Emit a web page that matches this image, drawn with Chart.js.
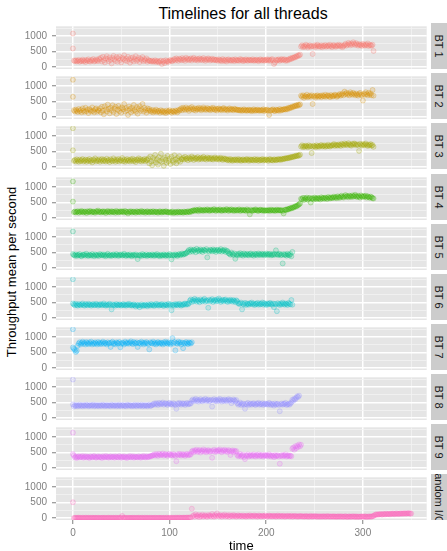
<!DOCTYPE html>
<html>
<head>
<meta charset="utf-8">
<script src="https://cdn.jsdelivr.net/npm/chart.js@4.4.1/dist/chart.umd.min.js"></script>
<style>
html,body{margin:0;padding:0;background:#fff;}
#wrap{position:relative;width:447px;height:551px;overflow:hidden;font-family:"Liberation Sans",Arial,sans-serif;}
#title{position:absolute;left:0;width:486px;top:5.5px;text-align:center;font-size:16px;line-height:16px;color:#000;white-space:nowrap;}
#ytitle{position:absolute;left:-138.5px;top:264px;width:300px;height:16px;line-height:16px;font-size:13px;text-align:center;color:#000;transform:rotate(-90deg);white-space:nowrap;}
.panel{position:absolute;left:0;}
.strip{position:absolute;left:431px;width:16px;height:46px;background:#CCCCCC;overflow:hidden;}
.strip span{position:absolute;left:50%;top:50%;transform:translate(-50%,-50%) rotate(90deg);font-size:11px;line-height:12px;color:#1a1a1a;white-space:nowrap;}
</style>
</head>
<body>
<div id="wrap">
  <div id="title">Timelines for all threads</div>
  <div id="ytitle">Throughput mean per second</div>
</div>
<script>
// ---- categories / ticks ----
const panelNames = ['BT 1','BT 2','BT 3','BT 4','BT 5','BT 6','BT 7','BT 8','BT 9','random I/O'];
const panelColors = ['#F8766D','#D89000','#A3A500','#39B600','#00BF7D','#00BFC4','#00B0F6','#9590FF','#E76BF3','#FF62BC'];
const xTickValues = [0,50,100,150,200,250,300,350];
const xTickLabels = [0,100,200,300];
const yTickValues = [0,250,500,750,1000,1250];
const yTickLabels = [0,500,1000];
const xTitle = 'time';

// ---- series: values at time 0, then one value per time unit from time 1 ----
const bt1Start = [1080,600];
const bt1 = [210,190,220,180,200,230,170,205,195,240,185,215,160,225,200,250,190,175,230,210,260,180,200,245,215,190,270,
240,300,180,330,220,150,280,350,260,190,310,230,120,290,360,250,200,320,170,280,340,230,150,300,260,380,210,270,190,330,250,140,290,220,310,180,260,350,200,240,300,160,270,230,320,190,250,210,280,170,230,200,
200,180,210,170,190,220,160,200,180,150,190,210,100,170,200,130,220,180,190,160,210,230,200,190,
230,260,210,280,240,200,270,250,220,290,230,260,200,300,240,270,220,250,280,210,260,300,240,230,270,210,250,280,230,260,220,290,240,200,260,230,280,250,210,240,270,220,250,230,
220,240,200,250,210,230,190,260,220,200,240,180,230,250,210,220,200,240,230,190,250,220,210,230,200,260,220,240,190,230,210,250,220,200,240,230,210,220,250,200,230,210,240,220,190,230,250,210,220,240,200,
230,220,250,210,240,200,230,260,220,100,150,240,210,230,250,200,230,260,220,240,250,
200,230,210,250,240,280,260,300,290,320,310,350,340,380,370,400,
660,700,640,680,650,720,690,630,670,700,650,680,420,660,700,640,690,720,660,680,650,700,640,690,670,710,650,680,700,660,720,680,640,690,710,670,650,700,680,720,690,660,700,640,680,710,750,690,720,780,740,700,760,720,800,750,710,770,730,690,740,700,720,680,750,710,690,730,700,760,680,720,700,690,720,520];

const bt2Start = [1200,650];
const bt2 = [220,180,240,200,160,260,190,230,150,280,210,170,300,190,240,130,260,220,180,310,200,150,250,280,170,230,200,
280,150,330,200,90,350,240,180,400,260,120,300,210,380,160,270,330,100,240,360,190,280,140,310,250,420,180,290,220,70,340,260,150,300,200,390,230,170,320,110,270,350,200,250,420,180,300,230,140,280,210,260,
200,170,230,150,210,180,240,160,200,190,140,220,170,200,150,180,130,210,160,190,220,170,140,200,180,160,210,190,150,230,200,
240,280,220,300,260,230,310,250,270,200,290,240,320,260,230,280,210,270,250,300,240,280,220,260,310,240,270,230,290,250,260,220,280,240,300,250,230,270,210,260,280,240,250,220,270,290,230,260,240,210,250,280,230,260,240,220,270,250,230,240,
220,230,210,240,200,220,250,210,230,200,220,240,210,230,190,220,250,200,230,210,240,220,200,230,210,220,250,190,230,220,240,210,70,200,230,220,250,210,190,240,220,230,200,260,210,240,230,250,260,
240,270,250,300,280,310,300,340,320,360,350,380,360,400,380,410,
690,650,700,620,680,660,720,640,670,690,650,700,420,660,690,630,680,700,650,670,690,640,700,680,660,720,650,690,700,670,640,710,680,660,690,720,700,650,680,710,740,690,720,760,700,820,740,780,720,760,700,800,750,720,780,740,700,760,720,690,740,780,720,700,530,750,720,800,740,700,780,720,760,700,870,690];

const bt3Start = [1250,540];
const bt3 = [200,230,180,250,210,170,240,190,220,260,180,210,240,170,230,200,260,190,220,150,240,210,280,180,230,200,250,170,220,260,190,240,210,180,270,200,230,160,250,210,190,280,220,170,240,200,260,180,230,210,290,190,240,170,220,260,200,230,180,250,210,270,190,230,160,240,220,280,200,250,180,230,210,260,190,240,220,
280,120,340,180,60,300,220,390,150,250,80,320,200,430,170,260,40,310,230,140,360,190,270,100,330,210,160,380,240,120,290,200,350,170,260,
250,300,240,330,260,280,220,310,270,250,340,290,230,300,260,280,320,240,270,300,250,290,330,260,280,240,310,270,290,250,300,260,240,280,310,270,250,290,240,270,300,260,230,280,250,270,
240,220,250,210,260,230,200,240,220,250,230,210,260,220,240,200,230,250,220,210,240,260,230,200,250,220,240,230,210,260,220,230,250,200,240,220,230,260,210,240,220,250,230,200,240,260,220,230,210,250,240,220,230,260,240,250,230,270,250,260,280,
270,290,280,300,290,320,310,330,320,350,340,370,350,380,370,400,
660,700,640,680,650,690,670,640,700,660,680,450,650,690,670,640,700,660,680,650,690,710,660,680,700,650,690,670,720,680,660,700,690,710,740,680,720,700,690,730,710,680,750,720,700,760,720,740,700,770,730,710,690,750,720,760,740,700,730,710,520,750,720,690,740,700,730,760,710,680,720,700,740,690,710,650];

const bt4Start = [1180,530];
const bt4 = [190,210,180,200,220,170,210,190,230,200,180,210,200,160,220,190,210,230,180,200,210,190,170,220,200,240,190,210,180,200,220,190,210,160,200,230,190,210,180,220,200,190,210,170,230,200,180,210,190,220,200,210,180,230,190,200,150,210,190,220,180,200,210,190,170,220,200,190,210,180,230,200,190,210,170,200,220,190,180,210,200,190,220,180,200,210,190,170,200,220,190,180,210,200,190,220,200,190,
180,200,170,190,210,160,190,180,200,170,210,190,180,200,190,170,210,190,200,180,220,200,190,230,210,240,
250,230,270,240,260,220,280,250,240,260,230,270,250,240,280,260,230,250,270,240,260,290,250,230,270,260,240,280,250,230,260,270,240,250,290,260,230,270,250,280,240,260,230,270,250,240,260,280,230,250,270,240,260,250,230,280,250,240,120,270,230,250,240,260,280,250,240,230,260,270,250,240,260,230,250,240,
250,240,260,230,270,250,240,260,230,250,270,240,260,250,240,260,230,150,260,
270,260,290,280,300,320,310,340,330,360,380,370,400,420,440,470,
620,600,650,580,640,610,660,590,630,650,500,620,640,600,660,630,610,650,620,640,600,670,630,650,620,660,640,610,680,650,630,670,640,660,690,650,680,640,700,670,650,690,720,680,660,700,740,690,710,670,720,700,680,730,690,710,750,700,680,720,690,660,730,700,680,710,690,720,660,700,680,650,690,670,640,630];

const bt5Start = [1180,450];
const bt5 = [420,400,440,390,430,410,450,400,380,430,420,440,400,460,410,390,430,420,400,450,410,380,440,420,400,430,390,450,420,410,440,400,430,380,420,460,410,400,430,390,420,440,410,400,450,420,390,430,410,440,400,420,460,410,390,430,420,400,440,410,380,420,430,400,440,410,290,420,400,430,390,450,410,420,400,440,390,420,430,410,400,440,420,390,430,410,450,400,420,380,430,410,400,440,420,390,430,410,400,450,420,280,410,430,400,440,420,390,430,450,410,440,470,430,460,450,480,500,
540,580,520,600,560,530,590,570,510,620,550,580,540,600,560,520,590,570,550,610,345,560,530,590,570,540,600,550,580,520,570,590,540,560,610,530,570,550,590,520,560,540,
480,460,430,500,450,420,470,300,440,410,460,430,480,420,450,400,470,440,420,460,430,410,450,470,420,440,400,460,430,450,410,470,440,420,460,430,450,410,440,470,420,450,430,460,410,440,420,460,430,570,450,420,440,460,410,430,150,450,420,440,400,460,430,410,450,380,520];

const bt6Start = [1250,470];
const bt6 = [440,410,460,420,400,450,430,410,440,470,420,400,450,430,410,460,420,440,400,430,450,410,420,460,430,400,440,420,450,410,430,470,420,400,440,410,430,460,420,280,440,410,430,400,450,420,410,440,430,400,420,450,410,430,400,440,420,460,410,430,400,420,440,410,370,430,400,420,350,410,440,390,420,400,430,410,380,440,420,400,450,410,430,390,420,460,410,440,400,430,420,450,410,390,440,420,430,400,460,410,440,250,420,430,400,450,420,440,410,460,430,400,440,420,450,470,430,460,440,480,
560,600,520,580,540,620,570,530,590,550,510,600,560,540,580,620,530,570,550,330,590,540,570,610,520,560,580,540,600,550,630,570,520,560,590,540,580,600,550,520,570,540,590,560,530,580,550,510,570,540,
480,450,470,500,280,460,440,490,420,470,450,430,480,460,500,440,470,420,460,450,490,430,470,440,460,500,430,480,450,420,470,440,460,490,450,430,470,350,460,440,220,480,450,420,470,440,500,460,430,470,450,420,490,460,440,580,430];

const bt7Start = [1250,660];
const bt7 = [620,580,520,560,
720,790,830,760,810,850,780,820,760,840,800,770,830,790,850,760,810,780,830,800,760,840,790,820,770,810,850,780,820,800,760,830,790,810,680,820,850,780,800,760,830,810,790,840,670,780,820,800,760,850,810,790,830,780,820,860,800,770,840,810,790,830,680,800,820,780,850,810,760,820,790,840,800,770,600,830,810,790,850,780,820,760,800,840,810,780,820,800,760,830,790,850,810,780,830,800,760,820,960,790,840,570,810,780,850,800,830,760,820,640,810,790,840,800,770,830,810,790,830];

const bt8Start = [1240,440];
const bt8 = [370,410,390,420,380,400,430,390,410,380,420,400,390,430,410,380,400,420,390,410,430,380,400,420,390,410,380,420,400,390,430,410,380,400,420,390,410,400,380,430,410,390,400,420,380,410,390,430,400,380,410,420,390,400,380,430,410,390,420,400,380,410,390,430,400,380,420,410,390,400,430,380,410,390,420,400,380,410,430,390,400,420,
440,470,430,480,450,420,490,460,440,470,500,430,460,480,450,420,470,490,440,460,430,480,450,420,300,470,440,490,460,430,480,450,470,420,460,490,440,470,450,480,
560,600,540,580,620,550,590,530,570,610,560,540,590,570,620,550,580,600,540,560,590,370,570,610,550,580,540,600,560,620,570,530,590,550,600,570,540,580,610,560,590,480,550,600,570,540,580,
480,430,460,500,420,450,470,430,300,460,440,490,420,450,470,430,460,480,440,420,470,450,490,430,460,440,480,420,450,470,440,460,430,490,450,420,460,440,400,470,430,450,460,420,220,440,470,430,460,450,490,420,440,460,430,
470,510,590,560,620,600,650,700,680,720];

const bt9Start = [1140,450];
const bt9 = [400,340,370,320,360,380,340,370,350,390,330,360,380,340,370,350,320,380,360,340,370,390,350,330,360,380,340,370,350,320,380,360,340,390,350,370,330,360,380,340,360,370,330,380,350,360,340,390,360,330,370,350,380,340,360,320,370,350,390,340,360,380,330,370,350,360,340,380,360,330,370,350,390,360,340,380,350,370,360,390,380,400,
410,440,400,450,420,390,460,430,410,440,470,400,430,450,420,390,440,460,410,430,400,450,420,390,220,440,410,460,430,400,450,420,440,390,430,460,410,440,420,450,
530,560,510,570,540,590,520,550,580,500,560,540,600,530,570,510,550,580,540,520,560,330,540,590,520,560,530,580,550,600,540,510,570,550,590,530,560,520,580,550,420,540,570,510,560,530,550,
420,380,410,450,370,400,430,360,290,410,390,440,370,400,420,380,410,440,390,370,420,400,440,380,410,390,430,370,400,420,390,410,380,440,400,370,410,390,350,420,380,400,410,370,140,390,420,380,410,400,440,370,390,410,380,
400,380,620,660,590,700,640,720,680,760,700,750];

const randomIOStart = [510];
const randomIO = [2,5,8,3,6,10,4,7,2,9,5,3,8,6,4,10,2,7,5,9,3,6,8,4,5,10,2,7,3,6,9,4,8,5,2,6,10,3,7,5,4,8,2,9,6,3,5,7,4,10,70,6,3,8,5,2,9,4,7,6,3,10,5,8,2,6,4,9,7,3,5,8,2,10,6,4,7,3,9,5,8,2,6,4,10,7,3,5,9,6,2,8,4,7,5,3,10,6,2,9,4,8,5,7,3,12,6,9,4,15,8,5,11,7,14,6,10,18,9,13,20,12,
300,
60,90,40,120,70,50,100,30,80,60,110,45,70,90,55,40,100,65,80,50,130,70,45,95,60,150,80,55,100,70,45,90,65,110,50,75,60,95,40,85,70,55,100,60,80,45,70,90,55,65,75,50,85,60,70,45,80,65,55,90,60,70,50,75,85,55,65,45,80,70,60,50,75,65,55,85,60,45,70,80,55,65,50,75,60,70,45,65,80,55,60,70,50,65,75,45,60,55,70,65,50,60,75,45,55,65,70,50,60,45,65,55,70,50,60,45,55,65,50,60,40,55,70,45,60,50,55,65,45,50,60,40,55,50,45,60,55,40,50,65,45,55,50,40,60,45,50,55,40,50,45,60,40,50,55,45,40,50,60,45,35,50,55,40,45,50,60,40,45,55,35,50,45,40,55,45,50,40,60,45,35,50,45,55,40,50,60,
70,90,110,120,105,125,115,130,120,110,135,125,120,140,130,125,135,120,140,130,145,135,125,140,150,135,130,145,140,150,135,145,155,140,150,145,160,150,140,145];

const seriesStarts = [bt1Start,bt2Start,bt3Start,bt4Start,bt5Start,bt6Start,bt7Start,bt8Start,bt9Start,randomIOStart];
const seriesValues = [bt1,bt2,bt3,bt4,bt5,bt6,bt7,bt8,bt9,randomIO];

// ---- rendering ----
const FONT = '"Liberation Sans", Arial, sans-serif';
Chart.defaults.font.family = FONT;

function rgba(hex, a) {
  const n = parseInt(hex.slice(1), 16);
  return 'rgba(' + ((n >> 16) & 255) + ',' + ((n >> 8) & 255) + ',' + (n & 255) + ',' + a + ')';
}

const panelBg = {
  id: 'panelBg',
  beforeDraw(chart) {
    const a = chart.chartArea, ctx = chart.ctx;
    ctx.save();
    ctx.fillStyle = '#E5E5E5';
    ctx.fillRect(a.left, a.top, a.right - a.left, a.bottom - a.top);
    ctx.restore();
  }
};

const wrap = document.getElementById('wrap');
const PANEL_H = 46;

panelNames.forEach((name, i) => {
  const top = Math.round(23.2 + 50.1 * i);
  const isLast = i === panelNames.length - 1;
  const h = isLast ? 551 - top : 50;

  const holder = document.createElement('div');
  holder.className = 'panel';
  holder.style.top = top + 'px';
  holder.style.width = '430px';
  holder.style.height = h + 'px';
  const cv = document.createElement('canvas');
  cv.width = 430; cv.height = h;
  cv.style.width = '430px'; cv.style.height = h + 'px';
  holder.appendChild(cv);
  wrap.appendChild(holder);

  const strip = document.createElement('div');
  strip.className = 'strip';
  strip.style.top = top + 'px';
  const sp = document.createElement('span');
  sp.textContent = name;
  strip.appendChild(sp);
  wrap.appendChild(strip);

  const col = panelColors[i];
  const pts = seriesStarts[i].map(v => ({x: 0, y: v}))
    .concat(seriesValues[i].map((v, k) => ({x: k + 1, y: v})));

  new Chart(cv, {
    type: 'scatter',
    data: {
      datasets: [{
        label: name,
        data: pts,
        backgroundColor: rgba(col, 0.16),
        borderColor: rgba(col, 0.34),
        borderWidth: 0.8,
        pointRadius: 2.5,
        pointHoverRadius: 2.5
      }]
    },
    options: {
      responsive: false,
      animation: false,
      events: [],
      devicePixelRatio: 1,
      layout: {padding: 0},
      plugins: {legend: {display: false}, tooltip: {enabled: false}, title: {display: false}},
      scales: {
        x: {
          type: 'linear', position: 'bottom', min: -17.5, max: 366,
          afterBuildTicks: s => { s.ticks = xTickValues.map(v => ({value: v})); },
          afterFit: s => { s.height = isLast ? 551 - top - PANEL_H : 50 - PANEL_H; s.paddingLeft = 0; s.paddingRight = 0; },
          border: {display: false},
          grid: {
            color: c => (c.tick && xTickLabels.includes(c.tick.value)) ? '#FFFFFF' : '#F2F2F2',
            lineWidth: c => (c.tick && xTickLabels.includes(c.tick.value)) ? 1.5 : 0.8,
            drawTicks: isLast,
            tickLength: 4,
            tickWidth: 1,
            tickColor: c => (c.tick && xTickLabels.includes(c.tick.value)) ? '#7F7F7F' : 'rgba(0,0,0,0)'
          },
          ticks: {
            display: isLast, autoSkip: false, maxRotation: 0, minRotation: 0, padding: 3,
            color: '#7F7F7F', font: {size: 10, family: FONT},
            callback: v => xTickLabels.includes(v) ? String(v) : ''
          },
          title: {
            display: isLast, text: xTitle, color: '#000000',
            font: {size: 13, family: FONT, lineHeight: 0.7}, padding: 0
          }
        },
        y: {
          type: 'linear', position: 'left', min: -62.5, max: 1312.5,
          afterBuildTicks: s => { s.ticks = yTickValues.map(v => ({value: v})); },
          afterFit: s => { s.width = 56; s.paddingTop = 0; s.paddingBottom = 0; },
          border: {display: false},
          grid: {
            color: c => (c.tick && yTickLabels.includes(c.tick.value)) ? '#FFFFFF' : '#F2F2F2',
            lineWidth: c => (c.tick && yTickLabels.includes(c.tick.value)) ? 1.5 : 0.8,
            drawTicks: true,
            tickLength: 4,
            tickWidth: 1,
            tickColor: c => (c.tick && yTickLabels.includes(c.tick.value)) ? '#7F7F7F' : 'rgba(0,0,0,0)'
          },
          ticks: {
            autoSkip: false, padding: 5, color: '#7F7F7F', font: {size: 10, family: FONT},
            callback: v => yTickLabels.includes(v) ? String(v) : ''
          }
        }
      }
    },
    plugins: [panelBg]
  });
});
</script>
</body>
</html>
